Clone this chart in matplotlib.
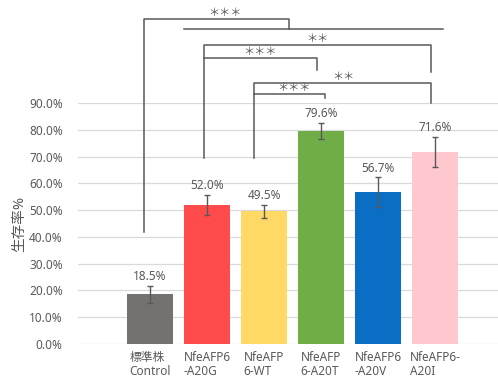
import numpy as np
import matplotlib
matplotlib.use('Agg')
import matplotlib.pyplot as plt

plt.rcParams['font.family'] = ['Noto Sans', 'Noto Sans CJK JP', 'DejaVu Sans']

# data (survival rate, %)
labels = ['標準株\nControl', 'NfeAFP6\n-A20G', 'NfeAFP\n6-WT', 'NfeAFP\n6-A20T', 'NfeAFP6\n-A20V', 'NfeAFP6-\nA20I']
values = [18.5, 52.0, 49.5, 79.6, 56.7, 71.6]
errors = [3.3, 3.8, 2.5, 3.0, 5.5, 5.6]
colors = ['#767171', '#FF4B4B', '#FFD966', '#70AD47', '#0A6EC4', '#FFC7CE']

# significance brackets: (x start, y start, y top, x end, y end, stars, star x)
brackets = [
    (-0.105, 41.8, 121.3, 2.44, 117.5, '＊＊＊', 1.32),
    (0.947, 69.4, 111.6, 4.93, 101.5, '＊＊', 2.93),
    (0.947, 106.7, 106.7, 2.93, 102.2, '＊＊＊', 1.93),
    (1.825, 69.4, 97.4, 4.93, 89.9, '＊＊', 3.39),
    (1.825, 93.3, 93.3, 3.07, 91.8, '＊＊＊', 2.53),
]

TXT = '#595959'
fig = plt.figure(figsize=(4.98, 3.78), dpi=100)
ax = fig.add_axes([78 / 498, 34 / 378, 420 / 498, 241 / 378])

x = np.arange(len(values))
ax.bar(x, values, width=0.79, color=colors, zorder=2)
ax.errorbar(x, values, yerr=errors, fmt='none', ecolor=TXT, elinewidth=1,
            capsize=2, capthick=1, zorder=3)
for xi, v, e in zip(x, values, errors):
    ax.annotate(f'{v:.1f}%', (xi, v + e), xytext=(0, 2), textcoords='offset points',
                ha='center', va='bottom', fontsize=8.5, color=TXT)

ax.set_xlim(-1.263, 6.105)
ax.set_ylim(0, 90)
ax.set_yticks(np.arange(0, 91, 10))
ax.set_yticklabels([f'{t:.1f}%' for t in np.arange(0, 91, 10)])
ax.set_xticks(x)
ax.set_xticklabels(labels, multialignment='left', linespacing=1.15)
ax.tick_params(axis='both', length=0, labelsize=8.5, labelcolor=TXT)
ax.tick_params(axis='x', pad=5)
ax.tick_params(axis='y', pad=11)
ax.grid(axis='y', color='#D9D9D9', linewidth=0.9, zorder=0)
ax.set_axisbelow(True)
for s in ax.spines.values():
    s.set_visible(False)
ax.set_ylabel('生存率%', fontsize=10.5, color=TXT, labelpad=1)

# group line above the mutant strains
ax.plot([0.596, 5.14], [117.5, 117.5], color=TXT, lw=1.1, clip_on=False)
for x0, y0, ytop, x1, y1, stars, sx in brackets:
    ax.plot([x0, x0, x1, x1], [y0, ytop, ytop, y1], color=TXT, lw=1.1, clip_on=False)
    ax.text(sx, ytop + 0.2, stars, ha='center', va='bottom', fontsize=8, color=TXT,
            clip_on=False)

fig.savefig('out.png', dpi=100)
